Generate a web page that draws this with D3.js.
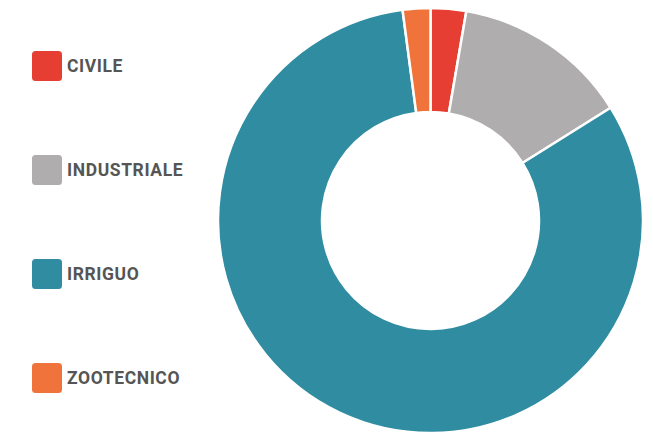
<!DOCTYPE html>
<html>
<head>
<meta charset="utf-8">
<script src="https://cdn.jsdelivr.net/npm/d3@7"></script>
<style>
  html, body { margin: 0; padding: 0; background: #fff; }
  svg { display: block; }
</style>
</head>
<body>
<svg id="chart" width="653" height="438"></svg>
<script>
// Water use by sector (share, %)
const categories = ["CIVILE", "INDUSTRIALE", "IRRIGUO", "ZOOTECNICO"];
const values = [2.7, 13.4, 81.8, 2.1];
const colors = ["#e63e33", "#b0adae", "#2f8ca1", "#f0733b"];

const svg = d3.select("#chart");
const cx = 430.5, cy = 220.5, outerR = 212.5, innerR = 108.5;

const pie = d3.pie().sort(null).value(d => d.value);
const arc = d3.arc().innerRadius(innerR).outerRadius(outerR);
const data = categories.map((c, i) => ({ name: c, value: values[i], color: colors[i] }));

svg.append("g")
  .attr("transform", `translate(${cx},${cy})`)
  .selectAll("path")
  .data(pie(data))
  .join("path")
  .attr("d", arc)
  .attr("fill", d => d.data.color)
  .attr("stroke", "#fff")
  .attr("stroke-width", 2.5)
  .attr("stroke-linejoin", "round");

// Legend
const legendY = d3.scalePoint().domain(categories).range([66, 378]);
const legend = svg.append("g")
  .selectAll("g")
  .data(data)
  .join("g")
  .attr("transform", d => `translate(32,${legendY(d.name)})`);

legend.append("rect")
  .attr("x", 0).attr("y", -15)
  .attr("width", 30).attr("height", 30)
  .attr("rx", 3.5)
  .attr("fill", d => d.color);

legend.append("text")
  .attr("x", 35)
  .attr("y", 0)
  .attr("dy", "0.35em")
  .attr("font-family", "Roboto, sans-serif")
  .attr("font-weight", 700)
  .attr("font-size", 17.5)
  .attr("letter-spacing", 0.6)
  .attr("fill", "#555")
  .text(d => d.name);
</script>
</body>
</html>
